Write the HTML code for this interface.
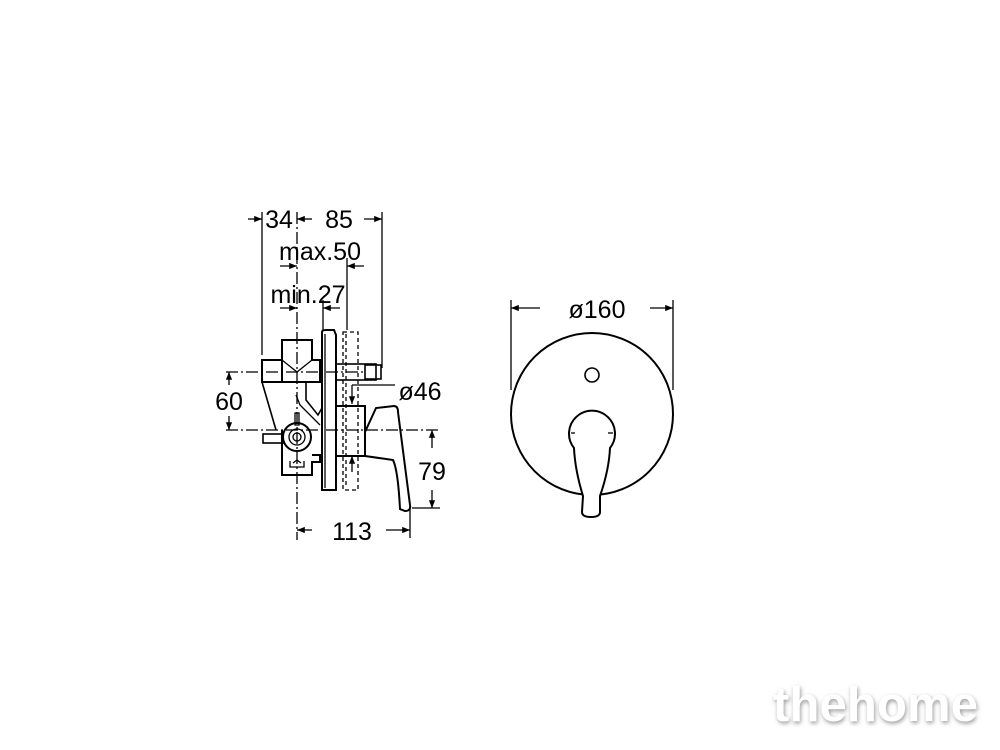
<!DOCTYPE html>
<html><head><meta charset="utf-8"><style>
html,body{margin:0;padding:0;background:#fff;width:1000px;height:750px;overflow:hidden}
svg{display:block}
text{font-family:"Liberation Sans",sans-serif;fill:#000}
</style></head><body>
<svg width="1000" height="750" viewBox="0 0 1000 750" xmlns="http://www.w3.org/2000/svg">
<defs>
<marker id="a" viewBox="0 0 10 10" refX="10" refY="5" markerWidth="8" markerHeight="6" orient="auto-start-reverse"><path d="M0,1 L10,5 L0,9 z" fill="#000"/></marker>
<filter id="sh"><feDropShadow dx="1" dy="2" stdDeviation="2" flood-color="#999"/></filter>
</defs>
<g stroke="#000" fill="none" stroke-width="1.3">
<line x1="262" y1="212" x2="262" y2="355"/>
<line x1="382" y1="212" x2="382" y2="368"/>
<line x1="297" y1="212" x2="297" y2="540" stroke-dasharray="12,3,2,3"/>
<line x1="347" y1="258" x2="347" y2="330"/>
<line x1="323" y1="300" x2="323" y2="330"/>
<line x1="248" y1="219" x2="262" y2="219" marker-end="url(#a)"/>
<line x1="297" y1="219" x2="312" y2="219" marker-start="url(#a)"/>
<line x1="382" y1="219" x2="364" y2="219" marker-start="url(#a)"/>
<line x1="280" y1="266" x2="297" y2="266" marker-end="url(#a)"/>
<line x1="364" y1="266" x2="347" y2="266" marker-end="url(#a)"/>
<line x1="280" y1="308" x2="297" y2="308" marker-end="url(#a)"/>
<line x1="340" y1="308" x2="323" y2="308" marker-end="url(#a)"/>
<line x1="226" y1="372" x2="365" y2="372" stroke-dasharray="12,3,2,3"/>
<line x1="226" y1="430" x2="440" y2="430" stroke-dasharray="12,3,2,3"/>
<line x1="229" y1="385" x2="229" y2="372" marker-end="url(#a)"/>
<line x1="229" y1="416" x2="229" y2="430" marker-end="url(#a)"/>
<line x1="432" y1="448" x2="432" y2="430" marker-end="url(#a)"/>
<line x1="432" y1="490" x2="432" y2="508" marker-end="url(#a)"/>
<line x1="412" y1="508" x2="440" y2="508"/>
<line x1="410" y1="508" x2="410" y2="538"/>
<line x1="312" y1="530" x2="297" y2="530" marker-end="url(#a)"/>
<line x1="386" y1="530" x2="410" y2="530" marker-end="url(#a)"/>
<line x1="395" y1="385" x2="352" y2="385"/>
<line x1="352" y1="385" x2="352" y2="404" marker-end="url(#a)"/>
<line x1="352" y1="472" x2="352" y2="456" marker-end="url(#a)"/>
<path d="M322,332 Q322,330 326,330 L334,330 L336,335 L336,490 L322,490 Z" stroke-width="2"/>
<line x1="325" y1="334" x2="325" y2="488"/>
<rect x="343" y="332" width="15" height="158" stroke-dasharray="4,3"/>
<line x1="346" y1="334" x2="346" y2="488" stroke-dasharray="4,3"/>
<rect x="336" y="364" width="40" height="16" stroke-width="1.6"/>
<rect x="365" y="365" width="16" height="14" stroke-width="1.6"/>
<path d="M282,340 L312,340 L312,360 L320,360 L320,382 L282,382 Z" stroke-width="2"/>
<path d="M262,360 L282,360 L282,382 L262,382 Z" stroke-width="2"/>
<path d="M282,360 L297,372 L312,360" />
<path d="M262,382 L276,430" stroke-width="1.6"/>
<path d="M306,382 L306,400 L318,415 L322,408" stroke-width="1.6"/>
<path d="M296,395 L300,405 L320,425" stroke-width="1.3"/>
<path d="M282,430 L282,475 L312,475 L312,462 L320,462 L320,455 L312,455" stroke-width="2"/>
<rect x="263" y="434" width="20" height="9" stroke-width="1.6"/>
<circle cx="297" cy="437" r="14" stroke-width="2"/>
<circle cx="297" cy="437" r="8"/>
<circle cx="297" cy="437" r="4"/>
<rect x="295" y="413" width="4" height="12"/>
<path d="M290,461 L290,467 L304,467 L304,461 M293,463 L297,460 L301,463"/>
<path d="M336,406 L365,406 L365,456 L336,456" stroke-width="2"/>
<path d="M365,432 L376,408 L394,406 Q398,406 398,412 L410,505 Q411,511 405,511 L400,509 Q398,470 393,460 L365,456 Z" stroke-width="2"/>
<line x1="511" y1="300" x2="511" y2="390"/>
<line x1="673" y1="300" x2="673" y2="390"/>
<line x1="540" y1="308" x2="511" y2="308" marker-end="url(#a)"/>
<line x1="650" y1="308" x2="673" y2="308" marker-end="url(#a)"/>
<circle cx="592" cy="414" r="81" stroke-width="2"/>
<circle cx="592" cy="375" r="7" stroke-width="1.6"/>
<path d="M583,496 Q575,470 574,448 A23,23 0 1 1 610,448 Q609,470 600,496 L600,512 Q600,517 591,517 Q582,517 582,512 Z" fill="#fff" stroke-width="2"/>
<line x1="571" y1="433" x2="575" y2="433"/><line x1="608" y1="433" x2="613" y2="433"/>
</g>
<g font-size="25" text-anchor="middle">
<text x="279" y="228">34</text>
<text x="339" y="228">85</text>
<text x="320" y="260">max.50</text>
<text x="308" y="303">min.27</text>
<text x="229" y="410">60</text>
<text x="420" y="400">ø46</text>
<text x="432" y="480">79</text>
<text x="352" y="540">113</text>
<text x="597" y="318">ø160</text>
</g>
<text x="773" y="721" font-size="49" font-weight="bold" textLength="205" style="fill:#fff" filter="url(#sh)">thehome</text>
</svg>
</body></html>
